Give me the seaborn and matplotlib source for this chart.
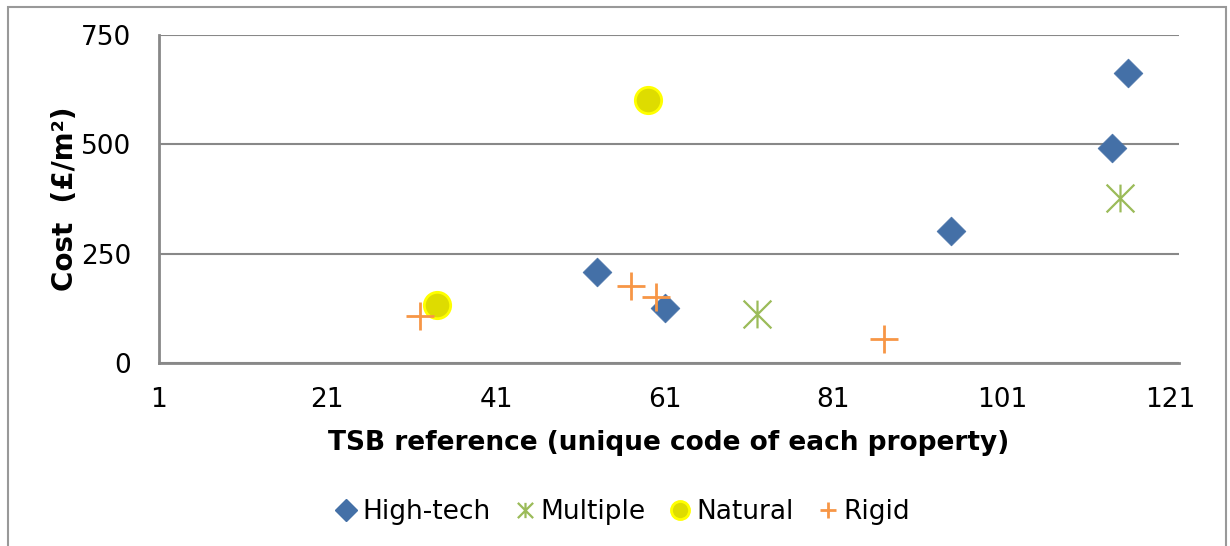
import numpy as np
import pandas as pd
import matplotlib
matplotlib.use("Agg")
import matplotlib.pyplot as plt
import seaborn as sns
from matplotlib.path import Path
from matplotlib.lines import Line2D
from matplotlib.patches import Rectangle

# ---- data ----
hightech_x = [53, 61, 95, 114, 116]
hightech_y = [208, 127, 302, 491, 662]
multiple_x = [72, 115]
multiple_y = [112, 377]
natural_x = [34, 59]
natural_y = [134, 601]
rigid_x = [32, 57, 60, 87]
rigid_y = [107, 177, 151, 55]

series_names = ["High-tech", "Multiple", "Natural", "Rigid"]
x_ticks = [1, 21, 41, 61, 81, 101, 121]
y_ticks = [0, 250, 500, 750]
x_label = "TSB reference (unique code of each property)"
y_label = "Cost  (£/m²)"

sns.set_theme(style="white")
plt.rcParams["font.family"] = ["DejaVu Sans"]
plt.rcParams["text.color"] = "black"
plt.rcParams["axes.labelcolor"] = "black"

star = Path([(-0.5, -0.5), (0.5, 0.5), (-0.5, 0.5), (0.5, -0.5), (0, -0.5), (0, 0.5)],
            [Path.MOVETO, Path.LINETO, Path.MOVETO, Path.LINETO, Path.MOVETO, Path.LINETO])

C_BLUE = "#4470A7"
C_GREEN = "#9BBB59"
C_YEL = "#DEDC00"
C_YEL_E = "#FFFF00"
C_ORANGE = "#F79646"
GRID = "#888888"

fig = plt.figure(figsize=(12.3, 5.46), dpi=100)
ax = fig.add_axes([158.7 / 1230, 1 - 363.3 / 546, (1179 - 158.7) / 1230, (363.3 - 34.8) / 546])

df_h = pd.DataFrame({"x": hightech_x, "y": hightech_y})
df_m = pd.DataFrame({"x": multiple_x, "y": multiple_y})
df_n = pd.DataFrame({"x": natural_x, "y": natural_y})
df_r = pd.DataFrame({"x": rigid_x, "y": rigid_y})

sns.scatterplot(data=df_h, x="x", y="y", ax=ax, marker="D", s=215, color=C_BLUE,
                edgecolor=C_BLUE, linewidth=0.5, zorder=3)
sns.scatterplot(data=df_m, x="x", y="y", ax=ax, marker=star, s=400, color=C_GREEN,
                edgecolor=C_GREEN, linewidth=1.6, zorder=3)
sns.scatterplot(data=df_n, x="x", y="y", ax=ax, marker="o", s=360, color=C_YEL,
                edgecolor=C_YEL_E, linewidth=2, zorder=3)
sns.scatterplot(data=df_r, x="x", y="y", ax=ax, marker="+", s=380, color=C_ORANGE,
                linewidth=2, zorder=4)

ax.set_xlim(1, 122)
ax.set_ylim(0, 750)
ax.set_xticks(x_ticks)
ax.set_yticks(y_ticks)
ax.tick_params(axis="both", labelsize=19, colors=GRID, labelcolor="black",
               length=8, width=1.5, direction="out")
ax.tick_params(axis="y", pad=12)
ax.tick_params(axis="x", pad=9)
ax.grid(axis="y", color=GRID, linewidth=1.5)
ax.grid(axis="x", visible=False)
for side in ["top", "right"]:
    ax.spines[side].set_visible(False)
for side in ["left", "bottom"]:
    ax.spines[side].set_color(GRID)
    ax.spines[side].set_linewidth(2)
ax.set_xlabel(x_label, fontsize=19, fontweight="bold", labelpad=12)
ax.set_ylabel(y_label, fontsize=20, fontweight="bold", labelpad=1)

handles = [
    Line2D([], [], linestyle="none", marker="D", markersize=11, color=C_BLUE),
    Line2D([], [], linestyle="none", marker=star, markersize=11, color=C_GREEN, markeredgewidth=1.6),
    Line2D([], [], linestyle="none", marker="o", markersize=13, color=C_YEL,
           markeredgecolor=C_YEL_E, markeredgewidth=2),
    Line2D([], [], linestyle="none", marker="+", markersize=12, color=C_ORANGE, markeredgewidth=2),
]
fig.legend(handles, series_names, loc="center", bbox_to_anchor=(623 / 1230, 1 - 512 / 546),
           ncol=4, frameon=False, fontsize=19, handlelength=0.8, handletextpad=0.2,
           columnspacing=0.9)

fig.patches.append(Rectangle((8 / 1230, -0.05), (1226 - 8) / 1230, (1 - 7 / 546) + 0.05,
                             transform=fig.transFigure, fill=False, edgecolor="#999999",
                             linewidth=1.5))

fig.savefig("out.png", dpi=100)
